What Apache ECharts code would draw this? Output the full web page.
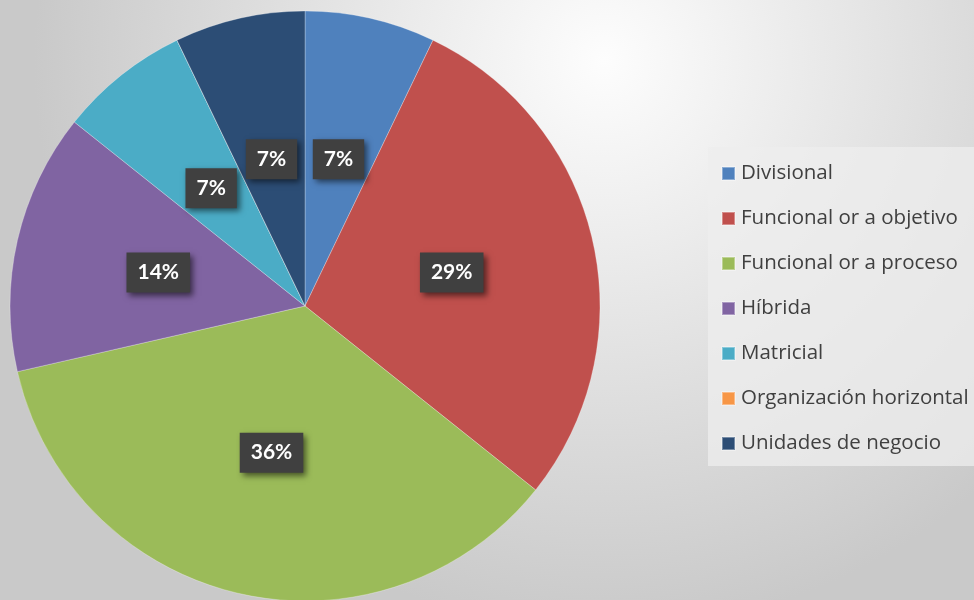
<!DOCTYPE html>
<html>
<head>
<meta charset="utf-8">
<script src="https://cdn.jsdelivr.net/npm/echarts@6/dist/echarts.min.js"></script>
<style>
html,body{margin:0;padding:0;}
#c{width:974px;height:600px;}
</style>
</head>
<body>
<div id="c"></div>
<script>
var categories = ["Divisional", "Funcional or a objetivo", "Funcional or a proceso", "Híbrida", "Matricial", "Organización horizontal", "Unidades de negocio"];
var values = [1, 4, 5, 2, 1, 0, 1];
var colors = ["#4f81bd", "#c0504d", "#9bbb59", "#8064a2", "#4bacc6", "#f79646", "#2c4d75"];

var chart = echarts.init(document.getElementById('c'), null, {renderer: 'canvas'});
var data = categories.map(function (name, i) {
  return {
    name: name,
    value: values[i],
    itemStyle: {color: colors[i]},
    label: {show: values[i] > 0}
  };
});
chart.setOption({
  backgroundColor: {
    type: 'radial', x: 0.62, y: 0.1, r: 0.95,
    colorStops: [{offset: 0, color: '#fdfdfd'}, {offset: 1, color: '#c9c9c9'}]
  },
  animation: false,
  legend: {
    orient: 'vertical',
    left: 708,
    top: 147,
    width: 300,
    padding: [16, 20, 12, 13],
    backgroundColor: 'rgba(238,238,238,0.75)',
    itemWidth: 13,
    itemHeight: 13,
    itemGap: 24,
    icon: 'rect',
    data: categories,
    textStyle: {
      color: '#404040',
      fontSize: 20.5,
      lineHeight: 20,
      fontFamily: 'Open Sans',
      padding: [0, 0, 0, 1]
    }
  },
  series: [{
    type: 'pie',
    center: [305, 306],
    radius: [0, 295],
    startAngle: 90,
    clockwise: true,
    avoidLabelOverlap: false,
    itemStyle: {borderColor: 'rgba(255,255,255,0.35)', borderWidth: 0.8},
    label: {
      position: 'inside',
      formatter: function (p) { return Math.round(p.percent) + '%'; },
      color: '#ffffff',
      fontSize: 21,
      fontWeight: 'bold',
      fontFamily: 'Lato',
      backgroundColor: '#404040',
      padding: [10, 11, 9, 11],
      lineHeight: 21,
      shadowColor: 'rgba(0,0,0,0.55)',
      shadowBlur: 6,
      shadowOffsetX: 3,
      shadowOffsetY: 3
    },
    labelLine: {show: false},
    emphasis: {disabled: true},
    data: data
  }]
});
</script>
</body>
</html>
